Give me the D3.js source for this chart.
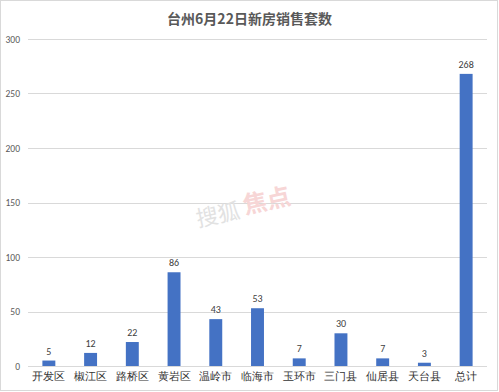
<!DOCTYPE html>
<html>
<head>
<meta charset="utf-8">
<script src="https://cdn.jsdelivr.net/npm/d3@7/dist/d3.min.js"></script>
<style>
  body { margin: 0; background: #fff; }
  svg { display: block; font-family: "Noto Sans CJK SC", "Noto Sans", sans-serif; }
</style>
</head>
<body>
<svg id="chart" width="499" height="392"></svg>
<script>
const titleText = "台州6月22日新房销售套数";
const categories = ["开发区", "椒江区", "路桥区", "黄岩区", "温岭市", "临海市", "玉环市", "三门县", "仙居县", "天台县", "总计"];
const values = [5, 12, 22, 86, 43, 53, 7, 30, 7, 3, 268];
const yTicks = [0, 50, 100, 150, 200, 250, 300];

const svg = d3.select("#chart");
const W = 499, H = 392;
const m = { left: 28, right: 12, top: 39, bottom: 26 };

svg.append("rect").attr("x", 0.5).attr("y", 0.5).attr("width", W - 2).attr("height", H - 2)
  .attr("fill", "#fff").attr("stroke", "#d9d9d9");

const x = d3.scaleBand().domain(categories).range([m.left, W - m.right]).paddingInner(0.69).paddingOuter(0.345);
const y = d3.scaleLinear().domain([0, 300]).range([H - m.bottom, m.top]);

// gridlines
svg.append("g").selectAll("line").data(yTicks).join("line")
  .attr("x1", m.left).attr("x2", W - m.right)
  .attr("y1", d => Math.round(y(d)) + 0.5).attr("y2", d => Math.round(y(d)) + 0.5)
  .attr("stroke", "#d9d9d9").attr("stroke-width", 1);

// y axis labels
const yAxis = d3.axisLeft(y).tickValues(yTicks).tickSize(0).tickPadding(8);
const gy = svg.append("g").attr("transform", `translate(${m.left},0)`).call(yAxis);
gy.select(".domain").remove();
gy.selectAll("text").attr("fill", "#595959").style("font-size", "9.5px").style("font-family", "Calibri, 'Liberation Sans', sans-serif");

// x axis labels
const xAxis = d3.axisBottom(x).tickSize(0).tickPadding(7);
const gx = svg.append("g").attr("transform", `translate(0,${H - m.bottom})`).call(xAxis);
gx.select(".domain").remove();
gx.selectAll("text").attr("fill", "#333333").style("font-size", "10.5px");

// watermark
svg.append("text").attr("x", 198).attr("y", 227).attr("transform", "rotate(-12,198,227)")
  .attr("fill", "#e2e2e2").style("font-size", "22px").text("搜狐");
svg.append("text").attr("x", 245).attr("y", 214).attr("transform", "rotate(-12,245,214)")
  .attr("fill", "#f7d6d6").style("font-size", "24px").style("font-weight", "bold").text("焦点");

// bars
svg.append("g").selectAll("rect").data(values).join("rect")
  .attr("x", (d, i) => x(categories[i]))
  .attr("width", x.bandwidth())
  .attr("y", d => y(d))
  .attr("height", d => y(0) - y(d))
  .attr("fill", "#4472c4");

// data labels
svg.append("g").selectAll("text").data(values).join("text")
  .attr("x", (d, i) => x(categories[i]) + x.bandwidth() / 2)
  .attr("y", d => y(d) - 6)
  .attr("text-anchor", "middle")
  .attr("fill", "#404040")
  .style("font-size", "10px")
  .style("font-family", "Calibri, 'Liberation Sans', sans-serif")
  .text(d => d);

// title
svg.append("text").attr("x", W / 2).attr("y", 24).attr("text-anchor", "middle")
  .attr("fill", "#595959").style("font-size", "14px").style("font-weight", "bold")
  .text(titleText);
</script>
</body>
</html>
